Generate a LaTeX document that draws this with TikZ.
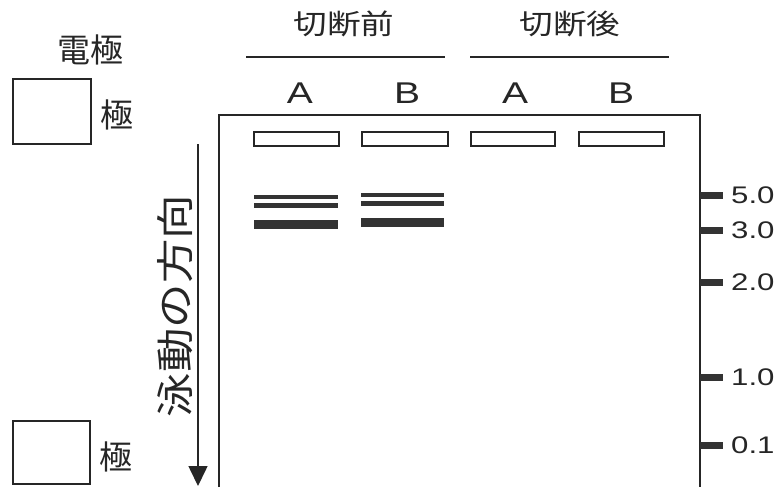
\documentclass[tikz,border=0pt]{standalone}
\usepackage{fontspec}
\setmainfont{Liberation Sans}
\newfontfamily\jp{Noto Sans CJK JP}
\usetikzlibrary{arrows.meta}
\tikzset{
  ln/.style={line width=2pt, draw=black!85},
  well/.style={draw=black!85, line width=2pt, fill=white},
  band/.style={fill=black!80, draw=none},
  tick/.style={fill=black!80, draw=none},
  jtxt/.style={inner sep=0pt, text=black!85},
}
\begin{document}
\begin{tikzpicture}[x=1pt,y=-1pt]
\useasboundingbox (0,0) rectangle (778,487);
% electrode boxes
\node[jtxt] (den) at (90,50) {\jp\fontsize{33}{33}\selectfont 電極};
\draw[line width=1.5pt, draw=black!85] (13,79) rectangle (91,144);
\node[jtxt] (k1) at (117,115) {\jp\fontsize{33}{33}\selectfont 極};
\draw[line width=1.5pt, draw=black!85] (13,421) rectangle (90,484);
\node[jtxt] (k2) at (116,457) {\jp\fontsize{33}{33}\selectfont 極};
% headers
\node[jtxt] (h1) at (344,24) {\scalebox{1.2}[1]{\jp\fontsize{28}{28}\selectfont 切断前}};
\node[jtxt] (h2) at (570,24) {\scalebox{1.2}[1]{\jp\fontsize{28}{28}\selectfont 切断後}};
\coordinate (l1a) at (246,57); \coordinate (l1b) at (445,57);
\coordinate (l2a) at (470,57); \coordinate (l2b) at (669,57);
\draw[ln] (l1a) -- (l1b);
\draw[ln] (l2a) -- (l2b);
\foreach \x/\t/\n in {300/A/a1, 407/B/b1, 515/A/a2, 621/B/b2}
  \node[jtxt] (\n) at (\x,93) {\scalebox{1.3}[1]{\fontsize{30}{30}\selectfont \t}};
% gel
\coordinate (g1) at (219,487); \coordinate (g2) at (219,115);
\coordinate (g3) at (700,115); \coordinate (g4) at (700,487);
\draw[ln] (g1) -- (g2) -- (g3) -- (g4);
% wells
\foreach \a/\b/\n in {254/339/w1, 362/448/w2, 471/555/w3, 579/664/w4}
  \draw[well] (\a,132) rectangle (\b,146);
% bands lane A
\fill[band] (254,195) rectangle (338,199);
\fill[band] (254,203) rectangle (338,208);
\fill[band] (254,220) rectangle (338,229);
% bands lane B
\fill[band] (361,193) rectangle (444,197);
\fill[band] (361,201) rectangle (444,206);
\fill[band] (361,218) rectangle (444,227);
% markers
\foreach \y/\t/\n in {195/5.0/m5, 230/3.0/m3, 282/2.0/m2, 377/1.0/m1, 445/0.1/m0} {
  \fill[tick] (700,\y-3.5) rectangle (723,\y+3.5);
  \node[jtxt, anchor=west] (\n) at (731,\y) {\scalebox{1.3}[1]{\fontsize{24}{24}\selectfont \t}};
}
% direction arrow
\coordinate (ar1) at (198,144);
\coordinate (ar2) at (198,486);
\draw[line width=1.6pt, draw=black!85, -{Triangle[length=20pt,width=19pt]}] (ar1) -- (ar2);
\node[jtxt, rotate=90] (dir) at (175,306) {\scalebox{1.17}[1]{\jp\fontsize{38}{38}\selectfont 泳動の方向}};
\end{tikzpicture}
\end{document}
